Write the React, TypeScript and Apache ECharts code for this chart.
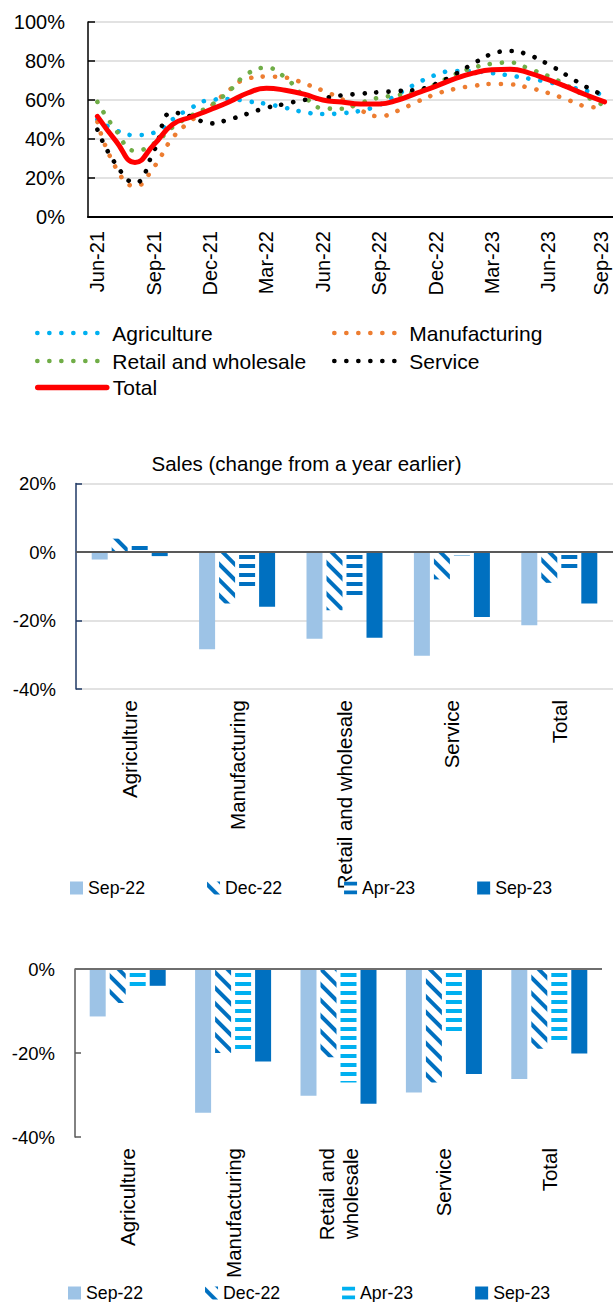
import React, { useEffect, useRef } from "react";
import * as echarts from "echarts";

// ---------- Data ----------
const months = [
  "Jun-21", "Jul-21", "Aug-21", "Sep-21", "Oct-21", "Nov-21", "Dec-21",
  "Jan-22", "Feb-22", "Mar-22", "Apr-22", "May-22", "Jun-22", "Jul-22",
  "Aug-22", "Sep-22", "Oct-22", "Nov-22", "Dec-22", "Jan-23", "Feb-23",
  "Mar-23", "Apr-23", "May-23", "Jun-23", "Jul-23", "Aug-23", "Sep-23",
];
const agriculture = [50, 44.4, 42, 43.2, 50, 56, 60, 60.5, 59.3, 58, 56, 53.8, 52.8, 53.2, 54.5, 57.5, 63, 68.5, 72.8, 74.9, 74.7, 73.8, 72.5, 70.9, 69.2, 67, 64.8, 62.6];
const manufacturing = [48.7, 25, 15.8, 25.5, 40.5, 49.5, 56.5, 65, 71, 72, 71.5, 68.5, 64.8, 60.5, 54.8, 51.7, 54.5, 59, 63, 65.6, 67.2, 68.2, 68, 66.2, 63.6, 60.2, 56.8, 56];
const retail = [59, 44.3, 34, 37.6, 46, 52, 57, 64.5, 73.5, 76.5, 71.5, 62, 55.8, 55.5, 58.5, 61.2, 62.5, 64.5, 68, 73, 76.5, 78.6, 79.2, 75.9, 72.3, 67.4, 61.9, 57.1];
const service = [44.8, 26.8, 17.6, 33.7, 53.5, 51.5, 48, 50, 53, 56, 58, 60, 61, 62.4, 63.2, 64, 64.6, 65.3, 68.2, 73, 78.6, 83.6, 85.1, 82.9, 78.3, 72.6, 66.8, 62.2];
const total = [51.6, 38.8, 28, 37, 47.4, 51.3, 55, 59, 63.6, 66, 65, 63, 60, 59, 58, 58, 60, 63.5, 67, 70.8, 73.8, 75.5, 75.8, 73.8, 70.4, 66.7, 62.7, 59];

const sectors = ["Agriculture", "Manufacturing", "Retail and wholesale", "Service", "Total"];
const sectorsWrapped = ["Agriculture", "Manufacturing", "Retail and\nwholesale", "Service", "Total"];
const periods = ["Sep-22", "Dec-22", "Apr-23", "Sep-23"];

// Sales (change from a year earlier), %
const salesSep22 = [-2.2, -28.4, -25.3, -30.3, -21.4];
const salesDec22 = [3.9, -15, -17, -8, -9];
const salesApr23 = [2.5, -10.2, -13.9, -1, -5.5];
const salesSep23 = [-1.2, -16, -25, -19, -15];

// Second panel, %
const lowerSep22 = [-11.3, -34.2, -30.2, -29.4, -26.2];
const lowerDec22 = [-8.1, -20, -21, -27, -19];
const lowerApr23 = [-4.1, -19.4, -27, -15.7, -17];
const lowerSep23 = [-4, -22, -32.1, -25, -20.1];

const FONT = "Liberation Sans";

// ---------- Helpers ----------
function dottedLine(name: string, data: number[], color: string) {
  return {
    type: "line",
    name,
    data,
    smooth: 0.5,
    symbol: "none",
    lineStyle: { color, width: 4.6, type: [0.1, 11.9], cap: "round" },
    itemStyle: { color },
    emphasis: { disabled: true },
  };
}

const hatchDecal = (color: string) => ({
  symbol: "rect",
  symbolSize: 1,
  color,
  dashArrayX: [1, 0],
  dashArrayY: [4, 7],
  rotation: Math.PI / 4,
});
const stripeDecal = (color: string) => ({
  symbol: "rect",
  symbolSize: 1,
  color,
  dashArrayX: [1, 0],
  dashArrayY: [3.5, 4.5],
  rotation: 0,
});

function barSeries(name: string, data: number[], itemStyle: any, extra: any = {}) {
  return {
    type: "bar",
    name,
    data,
    barWidth: 16,
    barGap: "25%",
    itemStyle,
    emphasis: { disabled: true },
    ...extra,
  };
}

function zeroLine(color: string) {
  return {
    silent: true,
    symbol: ["none", "none"],
    data: [{ yAxis: 0 }],
    lineStyle: { color, width: 2, type: "solid" },
    label: { show: false },
    emphasis: { disabled: true },
  };
}

function barLegend(left: number, top: number) {
  return {
    data: periods,
    left,
    top,
    padding: 0,
    icon: "rect",
    itemWidth: 13,
    itemHeight: 13,
    itemGap: 62,
    selectedMode: false,
    textStyle: { fontSize: 17.7, color: "#000", fontFamily: FONT },
  };
}

function lineLegend(names: string[], left: number, top: number, itemWidth: number, lineWidth: number, textPad: number) {
  return {
    data: names,
    orient: "vertical",
    left,
    top,
    padding: 0,
    itemWidth,
    itemHeight: 10,
    itemGap: 7,
    selectedMode: false,
    itemStyle: { opacity: 0 },
    lineStyle: { width: lineWidth },
    textStyle: { fontSize: 21, lineHeight: 21, padding: [0, 0, 0, textPad], color: "#000", fontFamily: FONT },
  };
}

const lastMonth = months[months.length - 1];

// ---------- Options ----------
const lineOption = {
  animation: false,
  textStyle: { fontFamily: FONT, color: "#000" },
  grid: { left: 88, top: 22, width: 526, height: 195, outerBoundsMode: "none", containLabel: false },
  xAxis: {
    type: "category",
    data: months,
    boundaryGap: true,
    axisLine: { lineStyle: { color: "#000", width: 2 } },
    axisTick: { inside: true, length: 7, interval: 2, lineStyle: { color: "#000", width: 1.5 } },
    axisLabel: {
      interval: 2,
      rotate: 90,
      margin: 14,
      fontSize: 20,
      lineHeight: 15,
      color: "#000",
      fontFamily: FONT,
      formatter: (v: string) => (v === lastMonth ? "{edge|" + v + "}" : v),
      rich: {
        edge: { fontSize: 20, lineHeight: 15, padding: [0, 0, 8, 0], color: "#000", fontFamily: FONT },
      },
    },
  },
  yAxis: {
    type: "value",
    min: 0,
    max: 100,
    interval: 20,
    axisLabel: { formatter: "{value}%", fontSize: 20, margin: 23, color: "#000", fontFamily: FONT },
    axisLine: { show: true, lineStyle: { color: "#000", width: 1.5 } },
    axisTick: { show: true, inside: true, length: 7, lineStyle: { color: "#000", width: 1.5 } },
    splitLine: { lineStyle: { color: "#D9D9D9", width: 1.5 } },
  },
  legend: [
    lineLegend(["Agriculture", "Retail and wholesale"], 35, 322.5, 62, 4.6, 8),
    lineLegend(["Manufacturing", "Service"], 332, 322.5, 62, 4.6, 8),
    lineLegend(["Total"], 35, 377, 69, 5.5, 1),
  ],
  series: [
    dottedLine("Agriculture", agriculture, "#00B0F0"),
    dottedLine("Manufacturing", manufacturing, "#ED7D31"),
    dottedLine("Retail and wholesale", retail, "#70AD47"),
    dottedLine("Service", service, "#000000"),
    {
      type: "line",
      name: "Total",
      data: total,
      smooth: 0.5,
      symbol: "none",
      lineStyle: { color: "#FF0000", width: 5, cap: "round" },
      itemStyle: { color: "#FF0000" },
      emphasis: { disabled: true },
      z: 5,
    },
  ],
};

const salesOption = {
  animation: false,
  textStyle: { fontFamily: FONT, color: "#000" },
  title: {
    text: "Sales (change from a year earlier)",
    left: "center",
    top: 33,
    padding: 0,
    textStyle: { fontSize: 20.5, fontWeight: "normal", color: "#000", fontFamily: FONT },
  },
  grid: { left: 76, top: 63.5, width: 537, height: 205.5, outerBoundsMode: "none", containLabel: false },
  xAxis: {
    type: "category",
    data: sectors,
    position: "bottom",
    axisLine: { show: false, onZero: false },
    axisTick: { show: false },
    axisLabel: { interval: 0, rotate: 90, margin: 11, fontSize: 20.5, color: "#000", fontFamily: FONT },
  },
  yAxis: {
    type: "value",
    min: -40,
    max: 20,
    interval: 20,
    axisLabel: { formatter: "{value}%", fontSize: 18.5, margin: 20, color: "#000", fontFamily: FONT },
    axisLine: { show: true, lineStyle: { color: "#1F3864", width: 1.5 } },
    axisTick: { show: true, inside: true, length: 6, lineStyle: { color: "#1F3864", width: 1.5 } },
    splitLine: { lineStyle: { color: "#D9D9D9", width: 1.5 } },
  },
  legend: barLegend(70, 459),
  series: [
    barSeries(periods[0], salesSep22, { color: "#9DC3E6" }),
    barSeries(periods[1], salesDec22, { color: "#FFFFFF", decal: hatchDecal("#0070C0") }),
    barSeries(periods[2], salesApr23, { color: "#FFFFFF", decal: stripeDecal("#0070C0") }),
    barSeries(periods[3], salesSep23, { color: "#0070C0" }, { markLine: zeroLine("#595959") }),
  ],
};

const lowerOption = {
  animation: false,
  textStyle: { fontFamily: FONT, color: "#000" },
  grid: { left: 75, top: 59, width: 527, height: 168, outerBoundsMode: "none", containLabel: false },
  xAxis: {
    type: "category",
    data: sectorsWrapped,
    position: "bottom",
    axisLine: { show: false, onZero: false },
    axisTick: { show: false },
    axisLabel: { interval: 0, rotate: 90, margin: 11, fontSize: 20.5, lineHeight: 24, color: "#000", fontFamily: FONT },
  },
  yAxis: {
    type: "value",
    min: -40,
    max: 0,
    interval: 20,
    axisLabel: { formatter: "{value}%", fontSize: 18.5, margin: 20, color: "#000", fontFamily: FONT },
    axisLine: { show: true, lineStyle: { color: "#595959", width: 1.5 } },
    axisTick: { show: true, inside: true, length: 6, lineStyle: { color: "#595959", width: 1.5 } },
    splitLine: { show: false },
  },
  legend: barLegend(68, 374),
  series: [
    barSeries(periods[0], lowerSep22, { color: "#9DC3E6" }),
    barSeries(periods[1], lowerDec22, { color: "#FFFFFF", decal: hatchDecal("#0070C0") }),
    barSeries(periods[2], lowerApr23, { color: "#FFFFFF", decal: stripeDecal("#00B0F0") }),
    barSeries(periods[3], lowerSep23, { color: "#0070C0" }, { markLine: zeroLine("#6E6E6E") }),
  ],
};

// ---------- Component ----------
export default function App() {
  const ref1 = useRef<HTMLDivElement>(null);
  const ref2 = useRef<HTMLDivElement>(null);
  const ref3 = useRef<HTMLDivElement>(null);

  useEffect(() => {
    const charts: echarts.ECharts[] = [];
    const pairs: [HTMLDivElement | null, any][] = [
      [ref1.current, lineOption],
      [ref2.current, salesOption],
      [ref3.current, lowerOption],
    ];
    for (const [el, opt] of pairs) {
      if (!el) continue;
      const c = echarts.init(el, undefined, { renderer: "svg" });
      c.setOption(opt);
      charts.push(c);
    }
    return () => charts.forEach((c) => c.dispose());
  }, []);

  const base: React.CSSProperties = { position: "absolute", left: 0, width: 613 };
  return (
    <div style={{ position: "absolute", left: 0, top: 0, width: 613, height: 1302, background: "#fff", overflow: "hidden" }}>
      <div ref={ref1} style={{ ...base, top: 0, height: 420 }} />
      <div ref={ref2} style={{ ...base, top: 420, height: 490 }} />
      <div ref={ref3} style={{ ...base, top: 910, height: 392 }} />
    </div>
  );
}
